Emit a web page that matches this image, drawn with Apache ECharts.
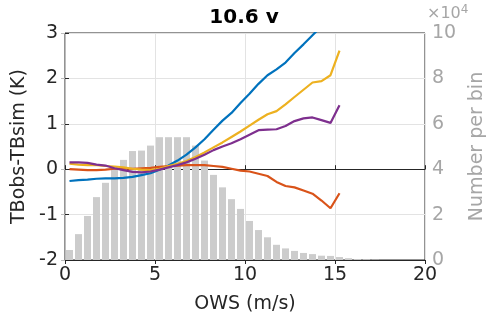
<!DOCTYPE html>
<html><head><meta charset="utf-8">
<script src="https://cdn.jsdelivr.net/npm/echarts@6/dist/echarts.min.js"></script>
<style>html,body{margin:0;padding:0;background:#fff}#c{width:488px;height:321px}</style>
</head><body><div id="c"></div>
<script>
var titleText = '10.6 v';
var xTicks = [0, 5, 10, 15, 20];
var yTicks = [-2, -1, 0, 1, 2, 3];
var countTicks = [0, 2, 4, 6, 8, 10];
var binCenters = [0.25,0.75,1.25,1.75,2.25,2.75,3.25,3.75,4.25,4.75,5.25,5.75,6.25,6.75,7.25,7.75,8.25,8.75,9.25,9.75,10.25,10.75,11.25,11.75,12.25,12.75,13.25,13.75,14.25,14.75,15.25,15.75,16.25,16.75,17.25];
var counts = [0.44,1.14,1.94,2.77,3.40,4.00,4.41,4.80,4.82,5.04,5.41,5.41,5.41,5.41,5.04,4.38,3.75,3.20,2.68,2.25,1.72,1.32,1.00,0.67,0.51,0.40,0.31,0.26,0.19,0.18,0.13,0.08,0.04,0.03,0.015];
var ows = [0.25,0.75,1.25,1.75,2.25,2.75,3.25,3.75,4.25,4.75,5.25,5.75,6.25,6.75,7.25,7.75,8.25,8.75,9.25,9.75,10.25,10.75,11.25,11.75,12.25,12.75,13.25,13.75,14.25,14.75,15.25];
var blue   = [-0.26,-0.24,-0.23,-0.21,-0.20,-0.20,-0.19,-0.17,-0.13,-0.09,-0.01,0.08,0.19,0.32,0.48,0.66,0.87,1.07,1.24,1.46,1.66,1.88,2.07,2.20,2.35,2.56,2.75,2.95,3.15,3.35,3.60];
var red    = [0.00,-0.01,-0.02,-0.02,-0.01,0.01,0.01,0.01,0.02,0.03,0.05,0.07,0.08,0.09,0.09,0.09,0.07,0.05,0.01,-0.03,-0.05,-0.10,-0.15,-0.28,-0.37,-0.40,-0.47,-0.54,-0.69,-0.86,-0.53];
var yellow = [0.12,0.10,0.09,0.09,0.07,0.06,0.04,0.01,-0.01,-0.02,0.01,0.07,0.12,0.18,0.27,0.37,0.48,0.59,0.71,0.83,0.96,1.09,1.21,1.28,1.43,1.59,1.75,1.91,1.94,2.07,2.61];
var purple = [0.15,0.15,0.14,0.10,0.08,0.02,-0.02,-0.06,-0.07,-0.05,-0.01,0.04,0.09,0.15,0.23,0.32,0.42,0.50,0.57,0.66,0.76,0.86,0.87,0.88,0.95,1.06,1.12,1.14,1.08,1.02,1.41];

function pairs(xs, ys){ return xs.map(function(x,i){ return [x, ys[i]]; }); }
var FONT = 'DejaVu Sans';
var chart = echarts.init(document.getElementById('c'), null, {renderer:'canvas'});
function lineS(name, data, color){
  return {name:name, type:'line', xAxisIndex:0, yAxisIndex:0, data:pairs(ows, data), symbol:'none',
    clip:true, lineStyle:{color:color, width:2.2}, z:5, animation:false};
}
chart.setOption({
  animation:false,
  title:{text:titleText, left:'center', top:3, textStyle:{fontFamily:FONT, fontSize:20, fontWeight:'bold', color:'#000'}},
  grid:{left:65, right:63, top:33, bottom:61, containLabel:false, outerBoundsMode:'none', show:true, borderColor:'#262626', borderWidth:1, backgroundColor:'transparent'},
  graphic:[{type:'text', left:427, top:4, style:{
    text:'×10{s|4}', fill:'#a6a6a6', font:'16px DejaVu Sans',
    rich:{s:{fontSize:12, fill:'#a6a6a6', verticalAlign:'top', padding:[0,0,8,0], fontFamily:FONT}}}}],
  xAxis:[{type:'value', min:xTicks[0], max:xTicks[xTicks.length-1], interval:5, position:'bottom',
    name:'OWS (m/s)', nameLocation:'middle', nameGap:35, nameTextStyle:{fontFamily:FONT, fontSize:19, color:'#262626'},
    axisLine:{show:true, lineStyle:{color:'#262626'}}, axisTick:{show:true, inside:true, length:4, lineStyle:{color:'#262626'}},
    axisLabel:{fontFamily:FONT, fontSize:19, color:'#262626', margin:6},
    splitLine:{show:true, lineStyle:{color:'#e3e3e3', width:1}}},
   {type:'value', min:0, max:20, interval:5, position:'top', axisLine:{show:true, lineStyle:{color:'#262626'}},
    axisTick:{show:true, inside:true, length:4, lineStyle:{color:'#262626'}}, axisLabel:{show:false}, splitLine:{show:false}}],
  yAxis:[{type:'value', min:yTicks[0], max:yTicks[yTicks.length-1], interval:1, position:'left',
    name:'TBobs-TBsim (K)', nameLocation:'middle', nameGap:33, nameTextStyle:{fontFamily:FONT, fontSize:19, color:'#262626'},
    axisLine:{show:true, lineStyle:{color:'#262626'}}, axisTick:{show:true, inside:true, length:4, lineStyle:{color:'#262626'}},
    axisLabel:{fontFamily:FONT, fontSize:19, color:'#262626', margin:7},
    splitLine:{show:true, lineStyle:{color:'#e3e3e3', width:1}}},
   {type:'value', min:countTicks[0], max:countTicks[countTicks.length-1], interval:2, position:'right',
    name:'Number per bin', nameLocation:'middle', nameGap:35, nameTextStyle:{fontFamily:FONT, fontSize:19, color:'#a6a6a6'},
    axisLine:{show:true, lineStyle:{color:'#bdbdbd'}}, axisTick:{show:true, inside:true, length:4, lineStyle:{color:'#bdbdbd'}},
    axisLabel:{fontFamily:FONT, fontSize:19, color:'#a6a6a6', margin:7},
    splitLine:{show:false}}],
  series:[
    {name:'count', type:'bar', xAxisIndex:0, yAxisIndex:1, data:pairs(binCenters, counts), barWidth:7,
      itemStyle:{color:'#cccccc'}, z:2, animation:false},
    lineS('b', blue, '#0072BD'),
    lineS('r', red, '#D95319'),
    lineS('y', yellow, '#EDB120'),
    lineS('p', purple, '#7E2F8E')
  ]
});
</script></body></html>
